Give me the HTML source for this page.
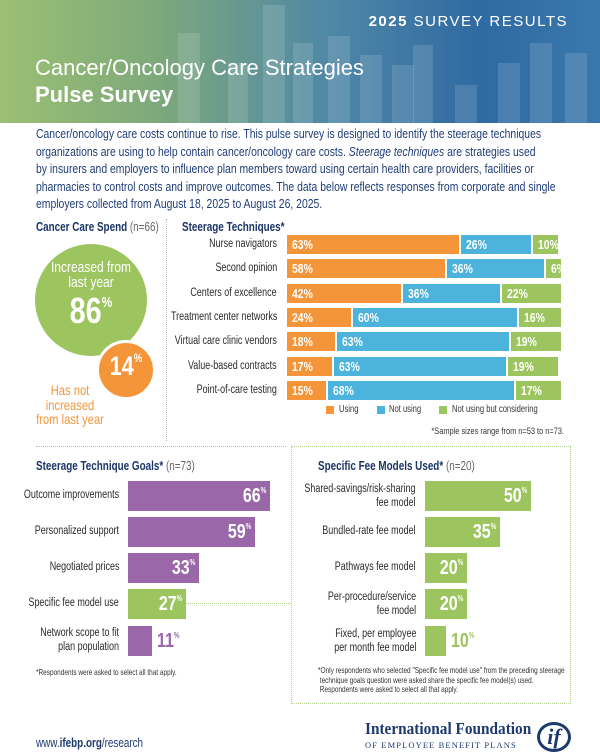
<!DOCTYPE html>
<html><head><meta charset="utf-8"><style>
*{margin:0;padding:0;box-sizing:border-box}
body{width:600px;height:753px;position:relative;background:#fff;font-family:"Liberation Sans",sans-serif;color:#1d3a6e;overflow:hidden}
.a{position:absolute;white-space:nowrap}
.L{transform:scaleX(.76);transform-origin:left center}
.R{transform:scaleX(.78);transform-origin:right center}
.C{transform:scaleX(.8);transform-origin:center center}
.hdr{left:0;top:0;width:600px;height:123px;background:linear-gradient(90deg,#9cbf73 0%,#7faa7a 25%,#4f87a6 55%,#2f6aa2 80%,#3a78ad 100%);overflow:hidden}
.st{position:absolute;bottom:0;background:rgba(255,255,255,0.13)}
.lab{font-size:11.5px;color:#2a2a2a;text-align:right}
.seg{position:absolute;height:19px;overflow:hidden}
.seg span{position:absolute;left:5px;top:0;color:#fff;font-weight:bold;font-size:13px;line-height:19px;transform:scaleX(.8);transform-origin:left center}
.o{background:#f4953a}.b{background:#4cb3dc}.g{background:#9dc55f}.p{background:#9a67a8}
.gb{position:absolute;height:30px}
.gv{position:absolute;color:#fff;font-weight:bold;font-size:20px;line-height:30px;transform:scaleX(.8);transform-origin:right center;white-space:nowrap}
.gv sup{font-size:8px;vertical-align:top;line-height:20px}
.h{font-weight:bold;font-size:13px;color:#1b3566}
.h span{font-weight:normal;color:#666}
</style></head><body>
<div class="a hdr">
<div class="st" style="left:178px;width:22px;height:90px"></div>
<div class="st" style="left:228px;width:20px;height:60px"></div>
<div class="st" style="left:263px;width:22px;height:118px"></div>
<div class="st" style="left:293px;width:20px;height:80px"></div>
<div class="st" style="left:328px;width:22px;height:87px"></div>
<div class="st" style="left:360px;width:22px;height:68px"></div>
<div class="st" style="left:392px;width:22px;height:58px"></div>
<div class="st" style="left:413px;width:20px;height:78px"></div>
<div class="st" style="left:455px;width:22px;height:38px"></div>
<div class="st" style="left:498px;width:22px;height:60px"></div>
<div class="st" style="left:530px;width:22px;height:80px"></div>
<div class="st" style="left:565px;width:22px;height:70px"></div>
</div>
<div class="a" style="right:32px;top:13px;color:#fff;font-size:15px;letter-spacing:1.5px"><b>2025</b> SURVEY RESULTS</div>
<div class="a" style="left:35px;top:55px;color:#fff;font-size:22px">Cancer/Oncology Care Strategies</div>
<div class="a" style="left:35px;top:82px;color:#fff;font-size:22px;font-weight:bold">Pulse Survey</div>

<div class="a" style="left:36px;top:125px;font-size:13px;line-height:17.6px;color:#1f3d78;transform:scaleX(.8);transform-origin:left top">Cancer/oncology care costs continue to rise. This pulse survey is designed to identify the steerage techniques<br>organizations are using to help contain cancer/oncology care costs. <i>Steerage techniques</i> are strategies used<br>by insurers and employers to influence plan members toward using certain health care providers, facilities or<br>pharmacies to control costs and improve outcomes. The data below reflects responses from corporate and single<br>employers collected from August 18, 2025 to August 26, 2025.</div>

<div class="a h L" style="left:36px;top:219px">Cancer Care Spend <span>(n=66)</span></div>
<div class="a" style="left:166px;top:219px;height:222px;border-left:1.5px dotted #bbb"></div>
<div class="a" style="left:35px;top:244px;width:112px;height:112px;border-radius:50%;background:#9dc55f"></div>
<div class="a C" style="left:35px;top:260px;width:112px;text-align:center;color:#fff;font-size:15px;line-height:15px">Increased from<br>last year</div>
<div class="a C" style="left:35px;top:293px;width:112px;text-align:center;color:#fff;font-size:36px;line-height:36px;font-weight:bold">86<span style="font-size:15px;vertical-align:top;line-height:20px">%</span></div>
<div class="a" style="left:96px;top:340px;width:60px;height:60px;border-radius:50%;background:#f4953a;border:3px solid #fff"></div>
<div class="a C" style="left:96px;top:351px;width:60px;text-align:center;color:#fff;font-size:27px;font-weight:bold">14<span style="font-size:12px;vertical-align:top">%</span></div>
<div class="a C" style="left:25px;top:383px;width:90px;text-align:center;color:#f4953a;font-size:14px;line-height:14.5px">Has not<br>increased<br>from last year</div>

<div class="a h L" style="left:182px;top:219px">Steerage Techniques*</div>
<div id="st"></div>

<div class="a o" style="left:326px;top:406px;width:8px;height:8px"></div>
<div class="a L" style="left:339px;top:404px;font-size:10px;color:#333">Using</div>
<div class="a b" style="left:377px;top:406px;width:8px;height:8px"></div>
<div class="a L" style="left:389px;top:404px;font-size:10px;color:#333">Not using</div>
<div class="a g" style="left:439px;top:406px;width:8px;height:8px"></div>
<div class="a L" style="left:452px;top:404px;font-size:10px;color:#333">Not using but considering</div>
<div class="a R" style="right:36px;top:426px;font-size:9.5px;color:#333">*Sample sizes range from n=53 to n=73.</div>

<div class="a" style="left:36px;top:446px;width:250px;border-top:1.5px dotted #bbb"></div>
<div class="a" style="left:291px;top:446px;width:280px;height:258px;border:1.5px dotted #b5d18a"></div>
<div class="a" style="left:186px;top:603px;width:105px;border-top:1.5px dotted #b5d18a"></div>

<div class="a h L" style="left:36px;top:458px">Steerage Technique Goals* <span>(n=73)</span></div>
<div class="a h L" style="left:318px;top:458px">Specific Fee Models Used* <span>(n=20)</span></div>

<div class="a lab R" style="right:481px;top:489px">Outcome improvements</div>
<div class="a lab R" style="right:481px;top:525px">Personalized support</div>
<div class="a lab R" style="right:481px;top:561px">Negotiated prices</div>
<div class="a lab R" style="right:481px;top:597px">Specific fee model use</div>
<div class="a lab R" style="right:481px;top:627px;line-height:13.5px">Network scope to fit<br>plan population</div>
<div class="gb p" style="left:128px;top:481px;width:142px"></div><div class="gv" style="right:334px;top:481px">66<sup>%</sup></div>
<div class="gb p" style="left:128px;top:517px;width:127px"></div><div class="gv" style="right:349px;top:517px">59<sup>%</sup></div>
<div class="gb p" style="left:128px;top:553px;width:71px"></div><div class="gv" style="right:405px;top:553px">33<sup>%</sup></div>
<div class="gb g" style="left:128px;top:589px;width:58px"></div><div class="gv" style="right:418px;top:589px">27<sup>%</sup></div>
<div class="gb p" style="left:128px;top:626px;width:24px"></div>
<div class="a gv" style="left:157px;top:626px;color:#9a67a8;transform-origin:left center">11<sup>%</sup></div>

<div class="a lab R" style="right:184px;top:483px;line-height:13.5px">Shared-savings/risk-sharing<br>fee model</div>
<div class="a lab R" style="right:184px;top:525px">Bundled-rate fee model</div>
<div class="a lab R" style="right:184px;top:561px">Pathways fee model</div>
<div class="a lab R" style="right:184px;top:591px;line-height:13.5px">Per-procedure/service<br>fee model</div>
<div class="a lab R" style="right:184px;top:628px;line-height:13.5px">Fixed, per employee<br>per month fee model</div>
<div class="gb g" style="left:425px;top:481px;width:106px"></div><div class="gv" style="right:73px;top:481px">50<sup>%</sup></div>
<div class="gb g" style="left:425px;top:517px;width:75px"></div><div class="gv" style="right:104px;top:517px">35<sup>%</sup></div>
<div class="gb g" style="left:425px;top:553px;width:42px"></div><div class="gv" style="right:137px;top:553px">20<sup>%</sup></div>
<div class="gb g" style="left:425px;top:589px;width:42px"></div><div class="gv" style="right:137px;top:589px">20<sup>%</sup></div>
<div class="gb g" style="left:425px;top:626px;width:21px"></div>
<div class="a gv" style="left:451px;top:626px;color:#9dc55f;transform-origin:left center">10<sup>%</sup></div>

<div class="a L" style="left:36px;top:667px;font-size:8.5px;color:#333">*Respondents were asked to select all that apply.</div>
<div class="a L" style="left:318px;top:666px;font-size:8.5px;line-height:9.7px;color:#333">*Only respondents who selected "Specific fee model use" from the preceding steerage<br>&nbsp;technique goals question were asked share the specific fee model(s) used.<br>&nbsp;Respondents were asked to select all that apply.</div>

<div class="a L" style="left:36px;top:735px;font-size:13px;color:#1d3a6e">www.<b>ifebp.org</b>/research</div>
<div class="a" style="left:365px;top:719px;font-family:'Liberation Serif',serif;font-size:17px;font-weight:bold;color:#1d3a6e;transform:scaleX(.9);transform-origin:left center">International Foundation</div>
<div class="a" style="left:365px;top:740px;font-family:'Liberation Serif',serif;font-size:8.5px;letter-spacing:1.1px;color:#1d3a6e">OF EMPLOYEE BENEFIT PLANS</div>
<div class="a" style="left:537px;top:722px;width:34px;height:30px;border:3px solid #1d3a6e;border-radius:50%;color:#1d3a6e;font-family:'Liberation Serif',serif;font-style:italic;font-weight:bold;font-size:22px;line-height:24px;text-align:center">if</div>

<script>
var rows=[["Nurse navigators",63,26,10],["Second opinion",58,36,6],["Centers of excellence",42,36,22],["Treatment center networks",24,60,16],["Virtual care clinic vendors",18,63,19],["Value-based contracts",17,63,19],["Point-of-care testing",15,68,17]];
var h="";
rows.forEach(function(r,i){var y=235+i*24.3;var x=287;var s=2.76;
h+='<div class="a lab R" style="right:323px;top:'+(y+3)+'px">'+r[0]+'</div>';
["o","b","g"].forEach(function(c,j){var w=r[j+1]*s-2;h+='<div class="seg '+c+'" style="left:'+x+'px;top:'+y+'px;width:'+w+'px"><span>'+r[j+1]+'%</span></div>';x+=w+2;});});
document.getElementById("st").innerHTML=h;
</script>
</body></html>
